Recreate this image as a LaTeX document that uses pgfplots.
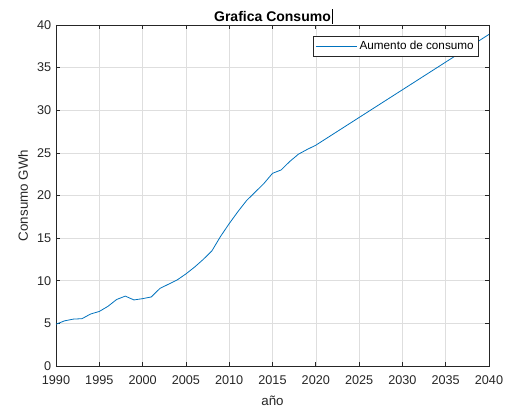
\documentclass[border=0pt]{standalone}
\usepackage{fontspec}
\setmainfont{Liberation Sans}
\usepackage{pgfplots}
\pgfplotsset{compat=1.18}
\definecolor{matblue}{rgb}{0,0.447,0.741}
\definecolor{axgray}{rgb}{0.15,0.15,0.15}
\begin{document}
\begin{tikzpicture}
\begin{axis}[
  scale only axis, width=324.75pt, height=255.75pt,
  xmin=1990, xmax=2040, ymin=0, ymax=40,
  xtick={1990,1995,...,2040}, ytick={0,5,...,40},
  grid=major, major grid style={color=black!13, line width=0.4pt},
  axis line style={axgray, line width=0.5pt},
  tick style={axgray, line width=0.5pt},
  tick align=inside, major tick length=3.2pt,
  ticklabel style={font=\fontsize{9.5}{11}\selectfont, text=axgray},
  xticklabel style={yshift=-4pt},
  /pgf/number format/assume math mode=true,
  /pgf/number format/1000 sep={},
  xlabel={año}, ylabel={Consumo GWh},
  label style={font=\fontsize{10}{12}\selectfont, text=axgray},
  xlabel style={yshift=-1.5pt},
  title={\textbf{Grafica Consumo}\rlap{\hspace{0.8pt}\rule[-1.5pt]{0.5pt}{11pt}}},
  title style={font=\fontsize{10.5}{12}\selectfont, at={(axis description cs:0.5,1)}, anchor=base, yshift=-3.5pt},
  legend style={at={(axis description cs:1,1)}, anchor=north east, xshift=-7.7pt, yshift=-8.25pt,
    font=\fontsize{8.8}{10.5}\selectfont, draw=axgray, line width=0.5pt, inner sep=1.5pt},
  legend image code/.code={\draw[#1] (0pt,0pt) -- (30.5pt,0pt);},
  legend cell align=left,
]
\addplot[color=matblue, line width=0.6pt] coordinates {
 (1990,4.9) (1991,5.3) (1992,5.5) (1993,5.55) (1994,6.1) (1995,6.4)
 (1996,7.0) (1997,7.8) (1998,8.2) (1999,7.75) (2000,7.9) (2001,8.1)
 (2002,9.1) (2003,9.6) (2004,10.1) (2005,10.8) (2006,11.6) (2007,12.5)
 (2008,13.5) (2009,15.2) (2010,16.7) (2011,18.1) (2012,19.4) (2013,20.4)
 (2014,21.4) (2015,22.6) (2016,23.0) (2017,24.0) (2018,24.85) (2019,25.4)
 (2020,25.9) (2025,29.15) (2030,32.4) (2035,35.65) (2040,38.9)
};
\addlegendentry{Aumento de consumo}
\coordinate (ll) at (rel axis cs:0,0);
\coordinate (ur) at (rel axis cs:1,1);
\end{axis}
\pgfresetboundingbox
\path[use as bounding box] ([shift={(-42pt,-30.75pt)}]ll) rectangle ([shift={(12.75pt,18.75pt)}]ur);
\end{tikzpicture}
\end{document}
